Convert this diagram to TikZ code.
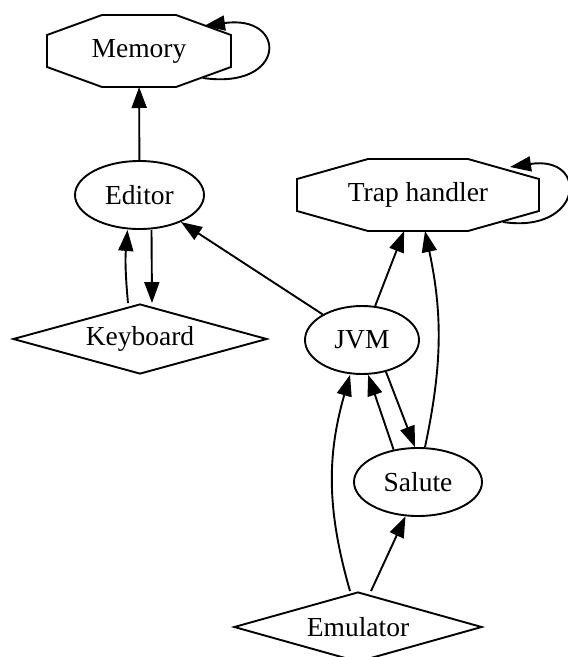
\documentclass[tikz,border=0pt]{standalone}
\usepackage{fontspec}
\setmainfont{Liberation Serif}
\usetikzlibrary{shapes.geometric,arrows.meta}
% octagon drawn round a plain box: #1 name, #2 corner width, #3 corner height
\newcommand{\octframe}[3]{\draw ([xshift=#2]#1.north west) -- ([xshift=-#2]#1.north east) -- ([yshift=-#3]#1.north east) -- ([yshift=#3]#1.south east) -- ([xshift=-#2]#1.south east) -- ([xshift=#2]#1.south west) -- ([yshift=#3]#1.south west) -- ([yshift=-#3]#1.north west) -- cycle;}
\begin{document}
\begin{tikzpicture}[x=1pt,y=-1pt,line width=1.9pt]
        \tikzstyle{octbox}=[rectangle,minimum height=72pt,inner sep=0pt,outer sep=0pt,font=\fontsize{27.5}{32}\selectfont]
        \tikzstyle{ovalbox}=[ellipse,draw,minimum height=68pt,inner sep=0pt,font=\fontsize{27.5}{32}\selectfont]
        \tikzstyle{diabox}=[diamond,draw,minimum height=70pt,inner sep=0pt,font=\fontsize{27.5}{32}\selectfont]
        \tikzstyle{edge}=[draw,-{Triangle[length=21pt,width=15pt]}]
       \useasboundingbox (0,0) rectangle (568,657);
       \begin{scope}
         \node [octbox,minimum width=184pt] (mem) at (139,51) {Memory};
         \node [octbox,minimum width=242pt] (trap) at (418,195) {Trap handler};
         \octframe{mem}{55pt}{20pt}
         \octframe{trap}{71pt}{20pt}
         \node [ovalbox,minimum width=129pt] (ed) at (139.5,195) {Editor};
         \node [diabox,aspect=3.55,minimum width=254pt] (kbd) at (140,339) {Keyboard};
         \node [ovalbox,minimum width=114pt] (jvm) at (362,340) {JVM};
         \node [ovalbox,minimum width=128pt] (sal) at (418,482) {Salute};
         \node [diabox,aspect=3.47,minimum width=248pt] (emu) at (358,627) {Emulator};
         \path[edge] (ed) -- (mem);
         \path[edge] ([xshift=-28pt,yshift=9pt]mem.south east) .. controls +(84,12) and +(84,-12) .. ([xshift=-27pt,yshift=-11pt]mem.north east);
         \path[edge] ([xshift=-12pt]kbd.north) to[bend left=5] ([xshift=-12pt]ed.south);
         \path[edge] ([xshift=12pt]ed.south) -- ([xshift=12pt]kbd.north);
         \path[edge] (jvm) -- (ed);
         \path[edge] (jvm) -- (trap);
         \path[edge] ([xshift=-36pt,yshift=9pt]trap.south east) .. controls +(80,12) and +(80,-12) .. ([xshift=-29pt,yshift=-8pt]trap.north east);
         \path[edge] ([xshift=7pt]sal.north) to[bend right=12] ([xshift=7pt]trap.south);
         \path[edge] (jvm.-53) -- (sal.95);
         \path[edge] (sal.127) -- (jvm.-80);
         \path[edge] ([xshift=-8pt]emu.north) to[bend left=16] ([xshift=-12pt]jvm.south);
         \path[edge] ([xshift=13pt]emu.north) -- (sal.-110);
        \end{scope}
      \end{tikzpicture}
\end{document}
